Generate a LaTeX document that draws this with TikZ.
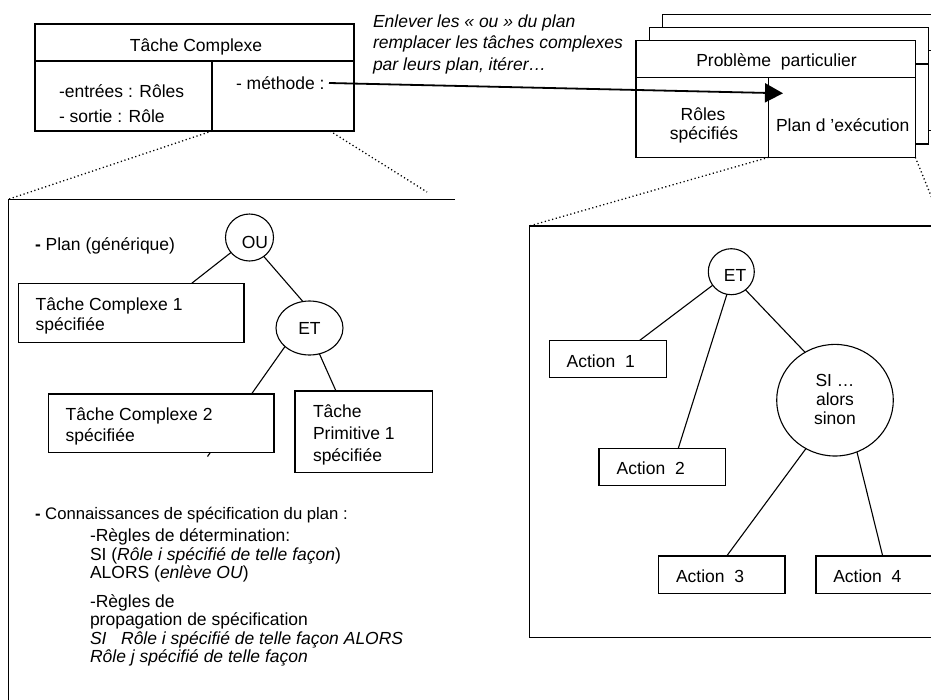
\documentclass[tikz,border=0pt]{standalone}
\usepackage{fontspec}
\setmainfont{Liberation Sans}
\usetikzlibrary{shapes.geometric,arrows.meta}
\pgfdeclarelayer{links}
\pgfsetlayers{links,main}
\tikzset{
  sz/.style 2 args={minimum width=#1, minimum height=#2},
  frame/.style={draw, line width=1.1pt, inner sep=0pt, outer sep=0pt, anchor=north west},
  boxw/.style={frame, fill=white},
  lab/.style={anchor=base west, inner sep=0pt, outer sep=0pt, font=\fontsize{17.5}{21}\selectfont},
  labc/.style={lab, anchor=base},
  link/.style={line width=1.1pt},
  zoomline/.style={line width=1.3pt, dash pattern=on 1.2pt off 2.6pt},
  oval/.style={ellipse, draw, fill=white, line width=1.1pt, inner sep=0pt, outer sep=0pt,
               font=\fontsize{17.5}{21}\selectfont},
}
\begin{document}
\begin{tikzpicture}[x=1pt,y=-1pt]
\useasboundingbox (0,0) rectangle (931,699);
\clip (0,0) rectangle (931,699);

% ---------- generic complex task ----------
\node[boxw, sz={319pt}{37pt}] (tchead) at (35,24) {};
\node[boxw, sz={177pt}{70pt}] (tcin) at (35,61) {};
\node[boxw, sz={142pt}{70pt}] (tcmeth) at (212,61) {};
\node[labc] (tcname) at (196,51) {Tâche Complexe};
\node[lab] (tcin1) at (59,97) {-entrées : Rôles};
\node[lab] (tcin2) at (59,122) {- sortie : Rôle};
\node[lab] (tcm) at (236,89.5) {- méthode :};

% ---------- note above the arrow ----------
\node[lab, font=\fontsize{17.5}{21}\selectfont\itshape] (note1) at (373,27) {Enlever les « ou » du plan};
\node[lab, font=\fontsize{17.5}{21}\selectfont\itshape] (note2) at (373,48.5) {remplacer les tâches complexes};
\node[lab, font=\fontsize{17.5}{21}\selectfont\itshape] (note3) at (373,70) {par leurs plan, itérer…};

% ---------- stack of particular problems ----------
\foreach \k in {2,1} {
  \node[boxw, sz={279.3pt}{36.6pt}] (pbhead\k) at ({636+13.3*\k},{40.7-13.3*\k}) {};
  \node[boxw, sz={279.3pt}{80pt}] (pbbody\k) at ({636+13.3*\k},{77.3-13.3*\k}) {};
}
\node[boxw, sz={279.3pt}{36.6pt}] (pbhead) at (636,40.7) {};
\node[boxw, sz={132.7pt}{80pt}] (pbroles) at (636,77.3) {};
\node[boxw, sz={146.6pt}{80pt}] (pbplan) at (768.7,77.3) {};
\node[labc] (pbname) at (776.5,66.7) {Problème\ \ particulier};
\node[labc] (pbr1) at (703,120) {Rôles};
\node[labc] (pbr2) at (704,139.3) {spécifiés};
\node[lab] (pbp) at (776,131.7) {Plan d ’exécution};

% ---------- arrow from the method to the plan ----------
\coordinate (arrowstart) at (329,83);
\coordinate (arrowtip) at (783,93.3);
\draw[line width=1.8pt, -{Triangle[length=18pt,width=19pt]}] (arrowstart) -- (arrowtip);

% ---------- generic plan panel (open on the right and at the bottom) ----------
\coordinate (lpnw) at (8.3,199.3);
\coordinate (lpne) at (455,199.3);
\coordinate (lpsw) at (8.3,720);
\draw[link] (lpne) -- (lpnw) -- (lpsw);
\coordinate (ldotend) at (427,192);
\draw[zoomline] (tcin.south east) -- (lpnw);
\draw[zoomline] ([xshift=-24pt]tcmeth.south east) -- (ldotend);

\node[lab] (plantitle) at (35,250) {\textbf{-} Plan (générique)};
\node[oval, sz={48pt}{47pt}] (ou) at (249.5,237.5) {};
\node[anchor=center, inner sep=0pt, font=\fontsize{17.5}{21}\selectfont] (oul) at (255,242) {OU};
\node[oval, sz={67pt}{54pt}] (etl) at (309.5,328) {ET};

\node[boxw, sz={225.7pt}{59pt}] (tc1) at (18.3,283.3) {};
\node[lab] (tc1a) at (35.7,310) {Tâche Complexe 1};
\node[lab] (tc1b) at (35.7,330.7) {spécifiée};
\node[boxw, sz={225.7pt}{58.7pt}] (tc2) at (48.3,394) {};
\node[lab] (tc2a) at (65.7,420.7) {Tâche Complexe 2};
\node[lab] (tc2b) at (65.7,441.7) {spécifiée};
\node[boxw, sz={137.3pt}{81.3pt}] (tp1) at (295,391) {};
\node[lab] (tp1a) at (313,417.3) {Tâche};
\node[lab] (tp1b) at (313,439.3) {Primitive 1};
\node[lab] (tp1c) at (313,461) {spécifiée};

\coordinate (tc2tail) at (207.5,456.5);
\begin{pgfonlayer}{links}
  \draw[link] (ou.219) -- ([xshift=173.4pt]tc1.north west);
  \draw[link] (ou.307) -- (etl.104);
  \draw[link] (etl.217) -- (tc2tail);
  \draw[link] (etl.291) -- ([xshift=41pt]tp1.north west);
\end{pgfonlayer}

\node[lab, font=\fontsize{16.7}{20}\selectfont] (kn) at (35,519.3) {\textbf{-} Connaissances de spécification du plan :};
\node[lab] (kn1) at (90,541.5) {-Règles de détermination:};
\node[lab] (kn2) at (90,560) {SI (\textit{Rôle i spécifié de telle façon})};
\node[lab] (kn3) at (90,578.5) {ALORS (\textit{enlève OU})};
\node[lab] (kn4) at (90,607) {-Règles de};
\node[lab] (kn5) at (90,625.5) {propagation de spécification};
\node[lab] (kn6) at (90,644) {\textit{SI\ \ \ Rôle i spécifié de telle façon ALORS}};
\node[lab] (kn7) at (90,662.5) {\textit{Rôle j spécifié de telle façon}};

% ---------- execution plan panel ----------
\node[frame, sz={414pt}{411.3pt}] (rpanel) at (529.3,226) {};
\draw[zoomline] (pbroles.south east) -- (rpanel.north west);
\draw[zoomline] (pbplan.south east) -- (rpanel.north east);

\node[oval, circle, minimum size=46pt] (etr) at (731.3,271.7) {};
\node[anchor=center, inner sep=0pt, font=\fontsize{17.5}{21}\selectfont] (etrl) at (735,275) {ET};
\node[oval, sz={116.6pt}{111.6pt}] (si) at (835,400.2) {};
\node[labc] (si1) at (835,386) {SI …};
\node[labc] (si2) at (835,405) {alors};
\node[labc] (si3) at (835,424) {sinon};

\node[boxw, sz={117.4pt}{37pt}] (a1) at (549.3,340.7) {};
\node[lab] (a1l) at (566.7,367.3) {Action\ \ 1};
\node[boxw, sz={126.7pt}{37.4pt}] (a2) at (599,448.3) {};
\node[lab] (a2l) at (616.7,474) {Action\ \ 2};
\node[boxw, sz={126.7pt}{37.3pt}] (a3) at (658.3,556) {};
\node[lab] (a3l) at (676,582.3) {Action\ \ 3};
\node[boxw, sz={126.7pt}{37.3pt}] (a4) at (816,556) {};
\node[lab] (a4l) at (833.3,582.3) {Action\ \ 4};

\begin{pgfonlayer}{links}
  \draw[link] (etr.216.5) -- ([xshift=90pt]a1.north west);
  \draw[link] (etr.259.5) -- ([xshift=79.3pt]a2.north west);
  \draw[link] (etr.308) -- (si.122);
  \draw[link] (si.239.5) -- ([xshift=68.4pt]a3.north west);
  \draw[link] (si.293) -- ([xshift=66.7pt]a4.north west);
\end{pgfonlayer}
\end{tikzpicture}
\end{document}
